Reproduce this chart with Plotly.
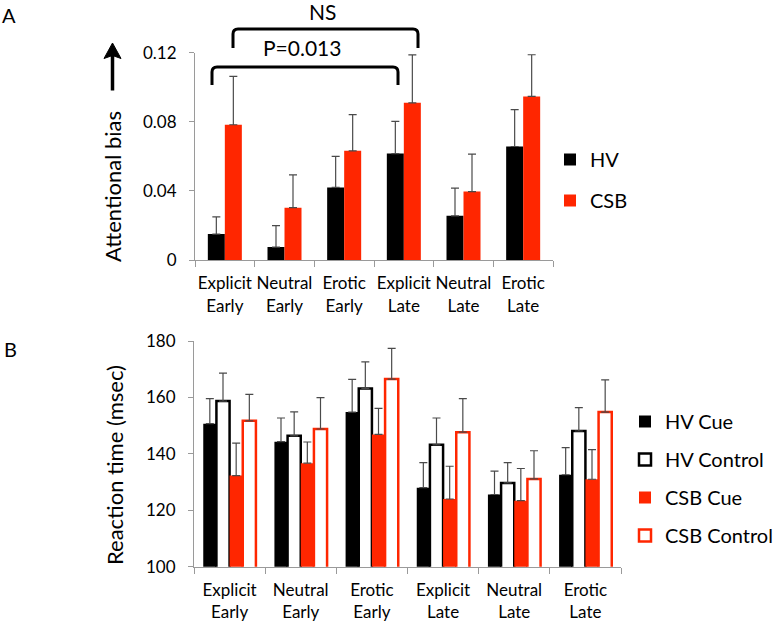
import plotly.graph_objects as go

# ---------------- data ----------------
categories = ["Explicit<br>Early", "Neutral<br>Early", "Erotic<br>Early",
              "Explicit<br>Late", "Neutral<br>Late", "Erotic<br>Late"]

# Panel A: attentional bias
hv_bias = [0.015, 0.0075, 0.042, 0.0616, 0.0256, 0.0657]
hv_bias_err = [0.010, 0.0124, 0.018, 0.0186, 0.016, 0.0213]
csb_bias = [0.0783, 0.0303, 0.0632, 0.091, 0.0396, 0.0947]
csb_bias_err = [0.028, 0.019, 0.021, 0.0277, 0.0217, 0.0241]

# Panel B: reaction time (msec)
hv_cue = [150.7, 144.3, 154.8, 128.0, 125.6, 132.6]
hv_cue_err = [8.9, 8.4, 11.6, 8.9, 8.3, 9.6]
hv_control = [158.7, 146.4, 163.2, 143.2, 129.7, 148.1]
hv_control_err = [9.9, 8.5, 9.4, 9.5, 7.2, 8.3]
csb_cue = [132.3, 136.7, 146.9, 124.0, 123.4, 131.0]
csb_cue_err = [11.5, 7.5, 9.2, 11.6, 11.4, 10.5]
csb_control = [151.7, 148.8, 166.5, 147.7, 131.1, 154.8]
csb_control_err = [9.4, 11.1, 10.9, 11.9, 10.0, 11.4]

bias_ticks = [0, 0.04, 0.08, 0.12]
bias_ticktext = ["0", "0.04", "0.08", "0.12"]
rt_ticks = [100, 120, 140, 160, 180]

# ---------------- style ----------------
W, H = 781, 627
RED = "#FF2600"
ERR = "#4a4a4a"
AXC = "#9a9a9a"
FONT = "Lato, 'Open Sans', sans-serif"


def X(p):
    return p / W


def Y(p):
    return 1 - p / H


def err(vals):
    return dict(type="data", array=vals, arrayminus=[0] * len(vals), symmetric=False,
                color=ERR, thickness=1.2, width=4)


fig = go.Figure()

wa = 0.285
fig.add_trace(go.Bar(x=categories, y=hv_bias, name="HV", marker=dict(color="black", line=dict(width=0)),
                     offset=-wa, width=wa, error_y=err(hv_bias_err), xaxis="x", yaxis="y",
                     legend="legend", legendgroup="a1"))
fig.add_trace(go.Bar(x=categories, y=csb_bias, name="CSB", marker=dict(color=RED, line=dict(width=0)),
                     offset=0, width=wa, error_y=err(csb_bias_err), xaxis="x", yaxis="y",
                     legend="legend", legendgroup="a2"))

wb = 0.185
specs = [
    ("HV Cue", hv_cue, hv_cue_err, "black", "black", 0),
    ("HV Control", hv_control, hv_control_err, "white", "black", 2.5),
    ("CSB Cue", csb_cue, csb_cue_err, RED, RED, 0),
    ("CSB Control", csb_control, csb_control_err, "white", RED, 2.5),
]
for i, (nm, vals, e, fc, lc, lw) in enumerate(specs):
    fig.add_trace(go.Bar(x=categories, y=vals, name=nm,
                         marker=dict(color=fc, line=dict(color=lc, width=lw)),
                         offset=-2 * wb + i * wb, width=wb, error_y=err(e),
                         xaxis="x2", yaxis="y2", legend="legend2", legendgroup="b%d" % i))

base_axis = dict(showline=True, linecolor=AXC, linewidth=1, showgrid=False, zeroline=False,
                 ticks="outside", tickcolor=AXC)
xcat = dict(range=[-0.5, 5.5], tickson="boundaries", ticklen=6, ticklabelstandoff=8, tickangle=0,
            tickfont=dict(size=17, color="black"), **base_axis)
yval = dict(ticklen=5, ticklabelstandoff=9, tickfont=dict(size=17, color="black"), **base_axis)

fig.update_layout(
    width=W, height=H,
    margin=dict(l=0, r=0, t=0, b=0, autoexpand=False),
    paper_bgcolor="white", plot_bgcolor="white",
    font=dict(family=FONT, color="black"),
    barmode="overlay",
    xaxis=dict(domain=[X(195), X(553)], anchor="y", **xcat),
    yaxis=dict(domain=[Y(260), Y(52.7)], anchor="x", range=[0, 0.12], tickvals=bias_ticks,
               ticktext=bias_ticktext, **yval),
    xaxis2=dict(domain=[X(194), X(621)], anchor="y2", **xcat),
    yaxis2=dict(domain=[Y(566.7), Y(341)], anchor="x2", range=[100, 180], tickvals=rt_ticks, **yval),
    legend=dict(x=X(550), y=Y(140), xanchor="left", yanchor="top", font=dict(size=20),
                traceorder="grouped", tracegroupgap=12, bgcolor="rgba(0,0,0,0)"),
    legend2=dict(x=X(625), y=Y(402), xanchor="left", yanchor="top", font=dict(size=20),
                 traceorder="grouped", tracegroupgap=9, bgcolor="rgba(0,0,0,0)"),
)


def bracket(x1, x2, ytop, ybot, r=5):
    return (f"M {X(x1)},{Y(ybot)} L {X(x1)},{Y(ytop + r)} Q {X(x1)},{Y(ytop)} {X(x1 + r)},{Y(ytop)} "
            f"L {X(x2 - r)},{Y(ytop)} Q {X(x2)},{Y(ytop)} {X(x2)},{Y(ytop + r)} L {X(x2)},{Y(ybot)}")


fig.add_shape(type="path", xref="paper", yref="paper", path=bracket(212, 398, 67, 85),
              line=dict(color="black", width=3))
fig.add_shape(type="path", xref="paper", yref="paper", path=bracket(233, 418, 29, 48),
              line=dict(color="black", width=3))

# upward arrow next to the panel A axis title
fig.add_shape(type="line", xref="paper", yref="paper", x0=X(112.5), x1=X(112.5), y0=Y(90.5), y1=Y(55),
              line=dict(color="black", width=3.5))
fig.add_shape(type="path", xref="paper", yref="paper",
              path=f"M {X(112.5)},{Y(43)} L {X(104)},{Y(58.5)} L {X(112.5)},{Y(55.5)} L {X(121)},{Y(58.5)} Z",
              fillcolor="black", line=dict(color="black", width=1))

ann = [
    dict(text="P=0.013", x=X(302), y=Y(48), font=dict(size=21)),
    dict(text="NS", x=X(322), y=Y(12), font=dict(size=21)),
    dict(text="A", x=X(9), y=Y(15), font=dict(size=20)),
    dict(text="B", x=X(10), y=Y(349), font=dict(size=20)),
    dict(text="Attentional bias", x=X(112), y=Y(187), font=dict(size=22), textangle=-90),
    dict(text="Reaction time (msec)", x=X(114), y=Y(465), font=dict(size=22), textangle=-90),
]
for a in ann:
    fig.add_annotation(xref="paper", yref="paper", showarrow=False, xanchor="center",
                       yanchor="middle", **a)

fig.write_html("out.html", config={"displayModeBar": False},
               post_script="document.body.style.margin='0px';document.body.style.overflow='hidden';")
